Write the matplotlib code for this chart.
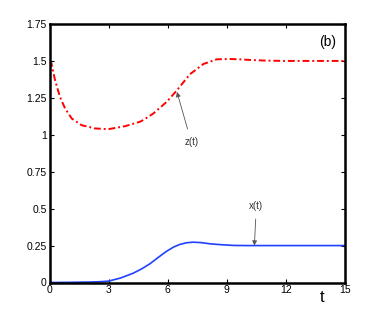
import matplotlib
matplotlib.use('Agg')
import matplotlib.pyplot as plt

plt.rcParams['font.family'] = ['Liberation Sans', 'DejaVu Sans']

# valores
t_z = [0, 0.08, 0.28, 0.53, 0.79, 1.13, 1.63, 2.31, 2.99, 3.83, 4.59, 4.76,
       5.27, 5.95, 6.46, 7.13, 7.81, 8.49, 9.16, 9.58, 10.3, 11.0, 12.0, 13.5,
       15.0]
z = [1.5, 1.495, 1.37, 1.257, 1.178, 1.11, 1.065, 1.043, 1.038, 1.058, 1.088,
     1.1, 1.144, 1.223, 1.30, 1.41, 1.479, 1.511, 1.513, 1.511, 1.506, 1.502,
     1.5, 1.5, 1.5]

t_x = [0, 1.0, 2.0, 2.5, 2.99, 3.6, 4.25, 4.7, 5.1, 5.5, 5.95, 6.3, 6.62,
       6.95, 7.3, 7.7, 8.15, 8.7, 9.33, 10.0, 11.0, 12.0, 13.5, 15.0]
x = [0, 0.001, 0.003, 0.005, 0.009, 0.03, 0.063, 0.094, 0.127, 0.168, 0.212,
     0.24, 0.258, 0.269, 0.273, 0.27, 0.262, 0.256, 0.251, 0.25, 0.25, 0.25,
     0.25, 0.25]

xticks = [0, 3, 6, 9, 12, 15]
yticks = [0, 0.25, 0.5, 0.75, 1, 1.25, 1.5, 1.75]
ylabels = ['0', '0.25', '0.5', '0.75', '1', '1.25', '1.5', '1.75']

fig = plt.figure(figsize=(3.82, 3.18), dpi=100)
ax = fig.add_axes([49.5 / 382, 1 - 282.5 / 318, (345 - 49.5) / 382,
                   (282.5 - 24) / 318])

ax.plot(t_z, z, color='#ff0000', linestyle='-.', linewidth=1.4,
        dashes=(3.5, 1.5, 1, 1.5))
ax.plot(t_x, x, color='#2040ff', linewidth=1.2)

ax.set_xlim(0, 15)
ax.set_ylim(0, 1.75)
ax.set_xticks(xticks)
ax.set_yticks(yticks)
ax.set_yticklabels(ylabels)
ax.tick_params(direction='in', top=True, right=True, length=3, width=0.8,
               labelsize=7.5, pad=2)
for s in ax.spines.values():
    s.set_linewidth(1.8)

ax.annotate('z(t)', xy=(6.47, 1.29), xytext=(7.2, 0.95), fontsize=7,
            ha='center', va='center', color='#333333',
            arrowprops=dict(arrowstyle='-|>', color='#555555', lw=0.6,
                            mutation_scale=7, shrinkA=4, shrinkB=0))
ax.annotate('x(t)', xy=(10.4, 0.25), xytext=(10.5, 0.52), fontsize=7,
            ha='center', va='center', color='#333333',
            arrowprops=dict(arrowstyle='-|>', color='#555555', lw=0.6,
                            mutation_scale=7, shrinkA=4, shrinkB=0))

ax.text(14.1, 1.63, '(b)', fontsize=10, ha='center', va='center')
fig.text(322 / 382, 1 - 298 / 318, 't', fontsize=12, ha='center',
         va='center')

fig.savefig('out.png', dpi=100)
